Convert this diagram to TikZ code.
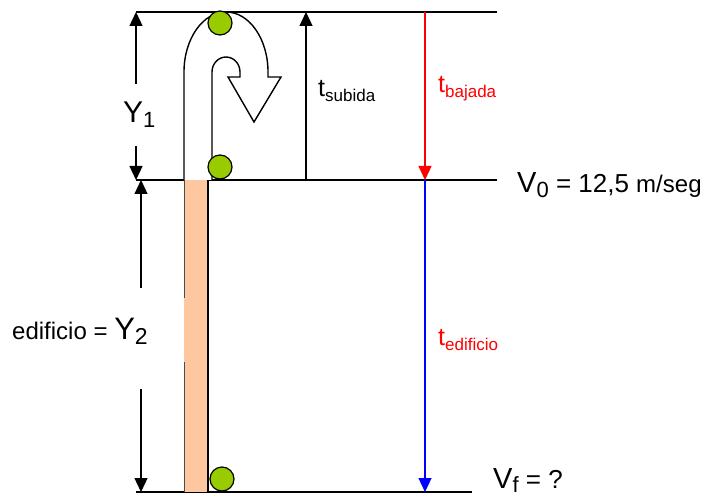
\documentclass[tikz,border=0pt]{standalone}
\usepackage{fontspec}
\setmainfont{Liberation Sans}
\usetikzlibrary{arrows.meta}
\definecolor{peach}{RGB}{255,199,159}
\definecolor{ballgreen}{RGB}{153,204,0}
\newcommand\fs[1]{\fontsize{#1}{#1}\selectfont}
\newcommand\lowsub[2]{\raisebox{-5pt}{\fs{#1}#2}}
\begin{document}
\begin{tikzpicture}[x=1pt,y=-1pt,
  lvl/.style={line width=1.4pt},
  dim/.style={line width=1.2pt,-{Triangle[length=14pt,width=13pt]}},
  ball/.style={circle,draw,line width=1.2pt,fill=ballgreen,minimum size=24pt,inner sep=0},
  lbl/.style={anchor=base west,inner sep=0}]
\useasboundingbox (0,0) rectangle (717,497);
% level lines
\coordinate (topL) at (136,12);  \coordinate (topR) at (497,12);
\coordinate (midL) at (136,180); \coordinate (midR) at (497,180);
\coordinate (botL) at (136,492); \coordinate (botR) at (472,492);
\draw[lvl] (topL) -- (topR);
\draw[lvl] (midL) -- (midR);
\draw[lvl] (botL) -- (botR);
% building
\fill[peach] (184,180) rectangle (208,492);
\draw[line width=1.2pt] (208,180) -- (208,492);
\draw[line width=1pt,black!70] (184,180) -- (184,298) (184,362) -- (184,492);
% U-turn arrow
\draw[line width=1.4pt,fill=white,line join=miter] (184,180) -- (184,72)
  arc[start angle=180,end angle=360,x radius=42,y radius=60] -- (268,77) -- (281,77)
  -- (254,122) -- (228,77) -- (240,77) -- (240,72)
  arc[start angle=0,end angle=-180,x radius=14,y radius=15] -- (212,180);
% balls
\node[ball] (b1) at (220,23) {};
\node[ball] (b2) at (220,167) {};
\node[ball] (b3) at (222,479) {};
% Y1 dimension
\coordinate (y1a) at (136,84);  \coordinate (y1b) at (136,146);
\draw[dim] (y1a) -- (topL);
\draw[dim] (y1b) -- (midL);
\node[lbl] (Y1) at (123,123) {\fs{30}Y\lowsub{22}{1}};
% Y2 dimension
\coordinate (y2top) at (141,180); \coordinate (y2bot) at (141,492);
\coordinate (y2a) at (141,288);   \coordinate (y2b) at (141,389);
\draw[dim] (y2a) -- (y2top);
\draw[dim] (y2b) -- (y2bot);
\node[lbl] (Y2) at (12,339) {\fs{24}edificio = \fs{31}Y\lowsub{23}{2}};
% t subida
\coordinate (ts0) at (306,180); \coordinate (ts1) at (306,12);
\draw[dim] (ts0) -- (ts1);
\node[lbl] (tsub) at (318,97) {\fs{25}t\lowsub{17}{subida}};
% t bajada
\coordinate (tb0) at (425,12); \coordinate (tb1) at (425,180);
\draw[dim,red] (tb0) -- (tb1);
\node[lbl,red] (tbaj) at (438,93) {\fs{25}t\lowsub{17}{bajada}};
% t edificio
\coordinate (te0) at (425,180); \coordinate (te1) at (425,492);
\draw[dim,blue] (te0) -- (te1);
\node[lbl,red] (tedi) at (438,345) {\fs{25}t\lowsub{17}{edificio}};
% velocities
\node[lbl] (V0) at (517,193) {\fs{29}V\lowsub{22}{0}\fs{26} = 12,5 \fs{24}m/seg};
\node[lbl] (Vf) at (493,488) {\fs{29}V\raisebox{-4pt}{\fs{22}f}\fs{26} = ?};
\end{tikzpicture}
\end{document}
